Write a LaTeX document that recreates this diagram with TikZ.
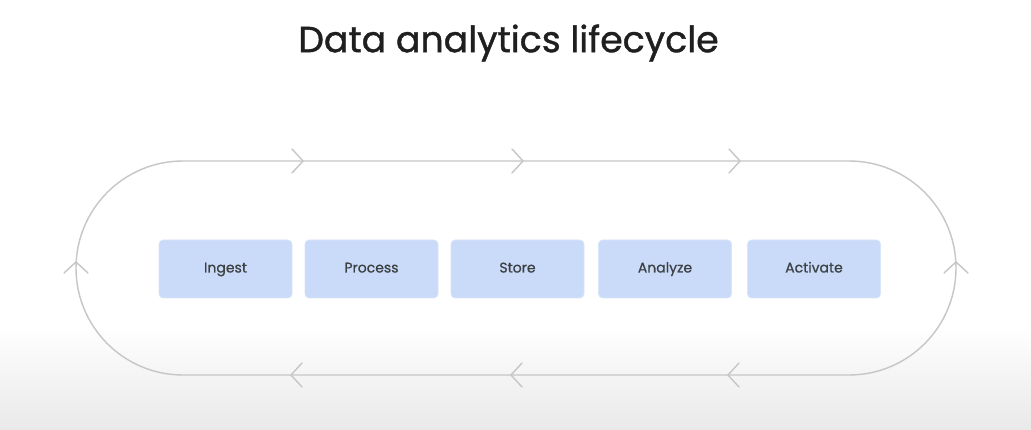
\documentclass[tikz,border=0pt]{standalone}
\usepackage{fontspec}
\setmainfont{Poppins}
\newfontfamily\titlefont{Poppins}[FakeBold=1.1]
\newfontfamily\boxfont{Poppins}[FakeBold=0.7]
\definecolor{boxfill}{HTML}{C9DBF8}
\definecolor{txt}{HTML}{3C4043}
\definecolor{trackc}{HTML}{C6C6C6}
\definecolor{bottomgray}{HTML}{E9E9E9}
\tikzset{
  box/.style={fill=boxfill, draw=boxfill!70!white, line width=0.6pt, rounded corners=4pt,
    minimum width=133pt, minimum height=58pt, inner sep=0pt, text=txt,
    text height=10pt, text depth=3pt, font=\boxfont\fontsize{14}{16}\selectfont},
  trackline/.style={draw=trackc, line width=1.4pt},
  chevron/.pic={\draw[trackline, line cap=round, line join=round] (-11,-12) -- (0,0) -- (-11,12);}
}
\begin{document}
\begin{tikzpicture}[x=1pt,y=-1pt]
\useasboundingbox (0,0) rectangle (1031,430);
\fill[white] (0,0) rectangle (1031,430);
\shade[top color=white, bottom color=bottomgray] (0,325) rectangle (1031,430);
\node[text=black!88, font=\titlefont\fontsize{36.3}{40}\selectfont] (title) at (508.5,43) {Data analytics lifecycle};
% track
\coordinate (tl) at (183,161);
\coordinate (br) at (849,375);
\draw[trackline] (tl) -- (849,161) arc[start angle=-90, end angle=90, radius=107]
   -- (183,375) arc[start angle=90, end angle=270, radius=107] -- cycle;
% chevrons
\pic at (303,161) {chevron};
\pic at (523,161) {chevron};
\pic at (740,161) {chevron};
\pic[rotate=180] at (291,375) {chevron};
\pic[rotate=180] at (511,375) {chevron};
\pic[rotate=180] at (728,375) {chevron};
\pic[rotate=90] at (76,262) {chevron};
\pic[rotate=90] at (956,262) {chevron};
% boxes
\node[box] (ingest) at (225.5,269) {Ingest};
\node[box] (process) at (371.5,269) {Process};
\node[box] (store) at (517.5,269) {Store};
\node[box] (analyze) at (665,269) {Analyze};
\node[box] (activate) at (814,269) {Activate};
\end{tikzpicture}
\end{document}
